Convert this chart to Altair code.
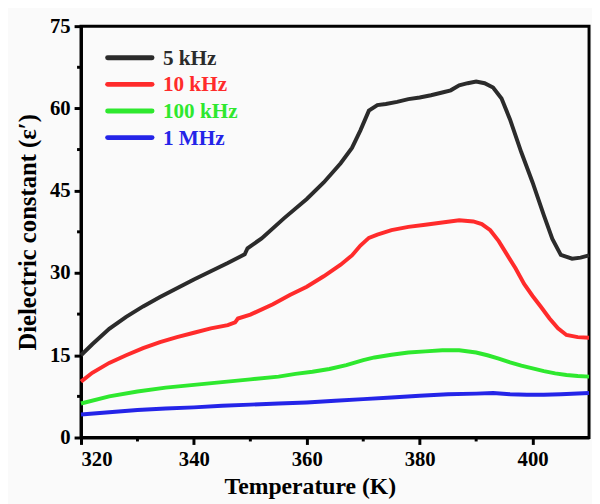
import altair as alt
import pandas as pd

series = ["5 kHz", "10 kHz", "100 kHz", "1 MHz"]
colors = ["#2b2b2b", "#ff2b2b", "#2ee82e", "#2424e8"]

t_5k = [320, 322, 325, 328, 331, 334, 337, 340, 343, 346, 349, 349.5, 352, 356, 360, 363, 366, 368,
        369.5, 371, 372.5, 374, 376, 378, 380, 382, 384, 385.5, 387, 388.5, 390, 391.5, 393, 394.5,
        396, 398, 400, 402, 403.5, 405, 407, 408.5, 410]
e_5k = [15.0, 17.0, 19.8, 22.0, 23.9, 25.6, 27.2, 28.8, 30.3, 31.8, 33.4, 34.5, 36.3, 40.0, 43.5, 46.5,
        50.0, 52.8, 56.0, 59.6, 60.6, 60.8, 61.2, 61.7, 62.0, 62.4, 62.9, 63.3, 64.2, 64.6, 64.9, 64.6,
        63.8, 61.8, 58.0, 52.0, 46.5, 40.5, 36.2, 33.3, 32.6, 32.8, 33.2]

t_10k = [320, 322, 325, 328, 331, 334, 337, 340, 343, 346, 347.3, 347.8, 350, 354, 357, 360, 363, 366,
         368, 369.5, 371, 372.5, 375, 378, 381, 384, 387, 389.5, 391, 392.5, 394, 395.5, 397, 398.5,
         400, 401.5, 403, 404.5, 406, 408, 410]
e_10k = [10.2, 11.8, 13.6, 15.0, 16.3, 17.4, 18.3, 19.1, 19.9, 20.5, 21.0, 21.7, 22.4, 24.3, 26.0, 27.5,
         29.4, 31.5, 33.2, 35.0, 36.4, 37.0, 37.8, 38.4, 38.8, 39.2, 39.6, 39.4, 38.9, 37.8, 35.8, 33.3,
         30.8, 28.0, 25.8, 23.8, 21.7, 19.9, 18.7, 18.3, 18.2]

t_100k = [320, 325, 330, 335, 340, 345, 350, 355, 358, 361, 364, 367, 370, 372, 375, 378, 381, 384,
          387, 390, 392, 394, 396, 398, 400, 402, 404, 406, 408, 410]
e_100k = [6.2, 7.5, 8.4, 9.1, 9.6, 10.1, 10.6, 11.1, 11.6, 12.0, 12.5, 13.2, 14.1, 14.6, 15.1, 15.5,
          15.7, 15.9, 15.9, 15.5, 15.0, 14.4, 13.7, 13.1, 12.6, 12.1, 11.7, 11.4, 11.2, 11.1]

t_1m = [320, 325, 330, 335, 340, 345, 350, 355, 360, 365, 370, 375, 380, 385, 390, 393, 396, 399,
        402, 405, 410]
e_1m = [4.2, 4.6, 5.0, 5.3, 5.5, 5.8, 6.0, 6.2, 6.4, 6.7, 7.0, 7.3, 7.6, 7.9, 8.0, 8.1, 7.9, 7.8,
        7.8, 7.9, 8.1]

x_major = [320, 340, 360, 380, 400]
x_minor = [330, 350, 370, 390]
y_major = [0, 15, 30, 45, 60, 75]
y_minor = [7.5, 22.5, 37.5, 52.5, 67.5]

rows = []
for name, ts, es in zip(series, [t_5k, t_10k, t_100k, t_1m], [e_5k, e_10k, e_100k, e_1m]):
    for t, e in zip(ts, es):
        rows.append({"series": name, "T": t, "eps": e})
df = pd.DataFrame(rows)

FONT = "Liberation Serif"
xscale = alt.Scale(domain=[320, 410], nice=False, zero=False)
yscale = alt.Scale(domain=[0, 75], nice=False, zero=False)
color = alt.Color("series:N", scale=alt.Scale(domain=series, range=colors), legend=None)
xaxis = alt.Axis(values=x_major, title="Temperature (K)", titleX=232, titleY=57,
                 titleBaseline="alphabetic", titleFontSize=24)

lines = alt.Chart(df).mark_line(strokeWidth=4).encode(
    x=alt.X("T:Q", scale=xscale, axis=xaxis),
    y=alt.Y("eps:Q", scale=yscale,
            axis=alt.Axis(values=y_major, title="Dielectric constant (ε′)", titlePadding=9,
                          titleFontSize=25)),
    color=color,
)

minor_x_ticks = alt.Chart(pd.DataFrame({"T": x_minor})).mark_rule(color="black", strokeWidth=3).encode(
    x=alt.X("T:Q", scale=xscale, axis=xaxis),
    y=alt.value(417), y2=alt.value(421),
)
minor_y_ticks = alt.Chart(pd.DataFrame({"eps": y_minor})).mark_rule(color="black", strokeWidth=3).encode(
    y=alt.Y("eps:Q", scale=yscale, axis=None),
    x=alt.value(0), x2=alt.value(-4),
)

leg = pd.DataFrame({"series": series})
legy = alt.Y("series:N", scale=alt.Scale(type="point", domain=series, range=[32, 113], padding=0), axis=None)
leg_lines = alt.Chart(leg).mark_rule(strokeWidth=5, strokeCap="round").encode(
    x=alt.value(27), x2=alt.value(72), y=legy, color=color
)
leg_text = alt.Chart(leg).mark_text(align="left", baseline="middle", font=FONT, fontWeight="bold",
                                    fontSize=21.5, dy=1).encode(
    x=alt.value(83), y=legy, text="series:N", color=color
)

chart = alt.layer(lines, minor_x_ticks, minor_y_ticks, leg_lines, leg_text).resolve_scale(
    y="independent"
).properties(
    width=515, height=417,
    autosize=alt.AutoSizeParams(type="none"),
    padding={"left": 74, "top": 15, "right": 3, "bottom": 64},
    background="#fafafa",
).configure_view(
    stroke="black", strokeWidth=3
).configure_axis(
    domainColor="black", domainWidth=3, tickColor="black", tickWidth=3, tickSize=7,
    labelFont=FONT, labelFontWeight="bold", labelFontSize=21, labelColor="black", labelPadding=4,
    titleFont=FONT, titleFontWeight="bold", titleColor="black", grid=False,
)

chart.save("out.html", embed_options={"renderer": "svg", "actions": False})
